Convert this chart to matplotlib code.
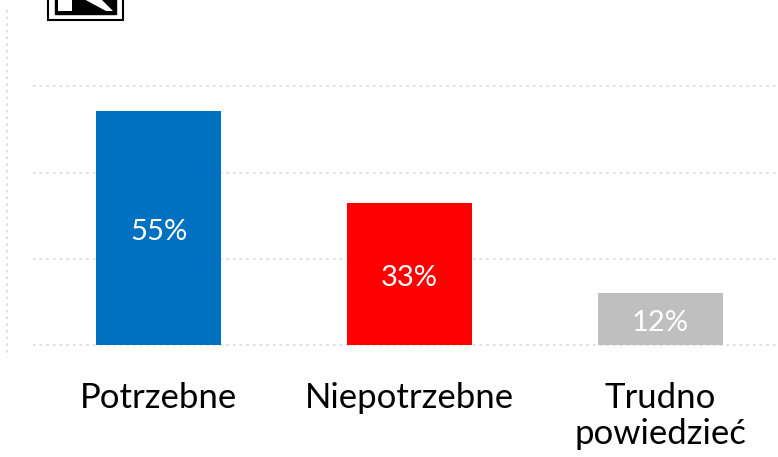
import matplotlib
matplotlib.use("Agg")
import matplotlib.pyplot as plt
from matplotlib.patches import Rectangle, Polygon
from matplotlib.lines import Line2D

categories = ["Potrzebne", "Niepotrzebne", "Trudno\npowiedzieć"]
values = [54.2, 32.9, 12.1]  # bar heights as measured
labels = ["55%", "33%", "12%"]
colors = ["#0070C0", "#FF0000", "#BFBFBF"]
grid_ticks = [0, 20, 40, 60]

W, H = 778, 457
fig = plt.figure(figsize=(W / 100, H / 100), dpi=100)
plt.rcParams["font.family"] = ["Lato", "DejaVu Sans"]

# axes: x from 33px to 786px, y from 345px (0) to 86px (60)
left = 33 / W
right = 786 / W
bottom = 1 - 345 / H
top = 1 - 86.3 / H
ax = fig.add_axes([left, bottom, right - left, top - bottom])
ax.set_xlim(-0.5, 2.5)
ax.set_ylim(0, 60)

for t in grid_ticks:
    ax.axhline(t, color="#D9D9D9", lw=1.2, ls=(0, (1.5, 2.5)), zorder=0, clip_on=False)

x = range(len(categories))
ax.bar(x, values, width=0.5, color=colors, zorder=2)

for i, (v, lab) in enumerate(zip(values, labels)):
    ax.annotate(lab, (i, v / 2), xytext=(0, -3), textcoords="offset points",
                ha="center", va="center", color="white", fontsize=21, zorder=3)

ax.set_xticks(list(x))
ax.set_xticklabels(categories, fontsize=25, linespacing=1.12, va="top")
ax.tick_params(axis="x", length=0, pad=27)
ax.set_yticks([])
for s in ax.spines.values():
    s.set_visible(False)

# left dotted border line
fig.add_artist(Line2D([7 / W, 7 / W], [1 - 10 / H, 1 - 357 / H], color="#D9D9D9",
                      lw=1.2, ls=(0, (1.5, 2.5)), transform=fig.transFigure))

# logo fragment at top left
def px(xp, yp):
    return (xp / W, 1 - yp / H)

fig.add_artist(Rectangle(px(48, 20), 75 / W, 24 / H, transform=fig.transFigure,
                         facecolor="white", edgecolor="black", lw=1.5))
fig.add_artist(Rectangle(px(55, 14), 61 / W, 18 / H, transform=fig.transFigure,
                         facecolor="black", edgecolor="black", lw=1))
fig.add_artist(Polygon([px(58, -2), px(72, -2), px(72, 11), px(58, 11)],
                       transform=fig.transFigure, facecolor="white", lw=0))
fig.add_artist(Polygon([px(82, -2), px(100, -2), px(113, 11), px(106, 11)],
                       transform=fig.transFigure, facecolor="white", lw=0))

fig.savefig("out.png", dpi=100)
